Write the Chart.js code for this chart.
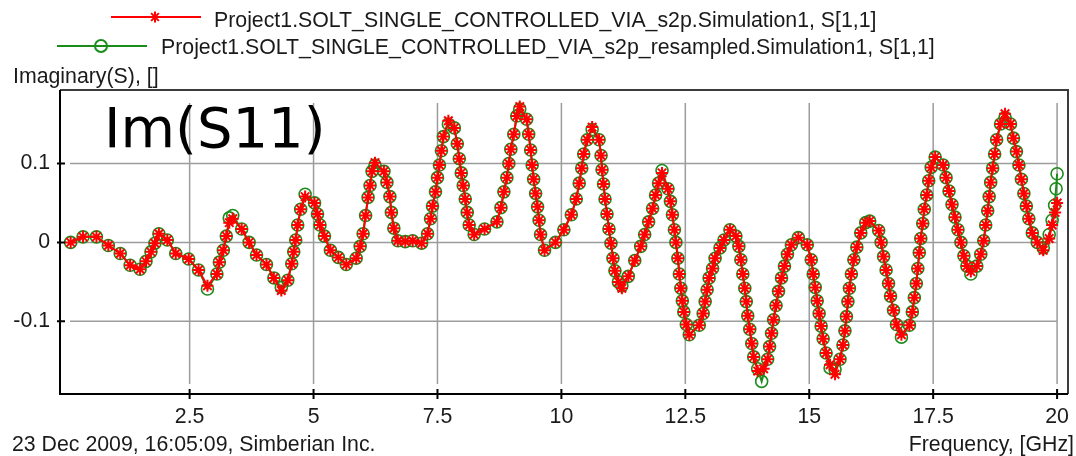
<!DOCTYPE html>
<html>
<head>
<meta charset="utf-8">
<title>Im(S11)</title>
<script src="https://cdn.jsdelivr.net/npm/chart.js@4.4.1/dist/chart.umd.min.js"></script>
<style>
  html, body { margin: 0; padding: 0; background: #fff; }
  #wrap { width: 1076px; height: 456px; }
</style>
</head>
<body>
<div id="wrap"><canvas id="chart" width="1076" height="456"></canvas></div>
<script>
// frequency points [GHz] and Im(S11)
const redFreq = [
  0.10, 0.35, 0.62, 0.86, 1.10, 1.30, 1.50, 1.62, 1.72, 1.80,
  1.88, 2.05, 2.22, 2.48, 2.68, 2.86, 3.05, 3.10, 3.18, 3.24,
  3.30, 3.37, 3.55, 3.70, 3.85, 4.05, 4.20, 4.35, 4.48, 4.56,
  4.60, 4.64, 4.68, 4.74, 4.83, 5.02, 5.08, 5.13, 5.22, 5.34,
  5.50, 5.66, 5.86, 5.94, 6.00, 6.05, 6.10, 6.14, 6.18, 6.24,
  6.42, 6.48, 6.54, 6.57, 6.62, 6.70, 6.85, 7.00, 7.18, 7.30,
  7.36, 7.40, 7.46, 7.50, 7.54, 7.58, 7.62, 7.72, 7.84, 7.90,
  7.94, 7.98, 8.02, 8.06, 8.10, 8.14, 8.24, 8.45, 8.70, 8.78,
  8.84, 8.90, 8.94, 8.98, 9.04, 9.10, 9.16, 9.30, 9.34, 9.38,
  9.41, 9.44, 9.48, 9.52, 9.55, 9.58, 9.66, 9.88, 10.05, 10.20,
  10.30, 10.36, 10.41, 10.45, 10.52, 10.62, 10.76, 10.80, 10.82, 10.85,
  10.88, 10.92, 10.96, 11.00, 11.04, 11.08, 11.15, 11.22, 11.35, 11.48,
  11.60, 11.68, 11.76, 11.84, 11.90, 11.96, 12.03, 12.15, 12.20, 12.24,
  12.28, 12.31, 12.35, 12.38, 12.41, 12.44, 12.47, 12.52, 12.58, 12.78,
  12.86, 12.90, 12.94, 12.98, 13.05, 13.10, 13.20, 13.28, 13.40, 13.52,
  13.58, 13.62, 13.66, 13.70, 13.73, 13.76, 13.80, 13.84, 13.88, 13.96,
  14.08, 14.16, 14.20, 14.24, 14.28, 14.33, 14.38, 14.44, 14.50, 14.56,
  14.64, 14.78, 14.96, 15.04, 15.08, 15.12, 15.16, 15.20, 15.24, 15.28,
  15.34, 15.42, 15.52, 15.62, 15.68, 15.72, 15.75, 15.78, 15.81, 15.85,
  15.90, 15.96, 16.04, 16.14, 16.22, 16.40, 16.45, 16.50, 16.55, 16.60,
  16.64, 16.70, 16.76, 16.86, 17.02, 17.08, 17.12, 17.16, 17.19, 17.22,
  17.25, 17.29, 17.32, 17.37, 17.41, 17.46, 17.54, 17.70, 17.76, 17.82,
  17.88, 17.94, 18.00, 18.06, 18.12, 18.18, 18.26, 18.38, 18.46, 18.52,
  18.56, 18.60, 18.63, 18.66, 18.70, 18.74, 18.78, 18.86, 18.95, 19.06,
  19.12, 19.18, 19.23, 19.28, 19.33, 19.38, 19.43, 19.50, 19.60, 19.72,
  19.84, 19.90, 19.96, 20.00
];
const redIm = [
  0.000, 0.007, 0.007, -0.004, -0.014, -0.029, -0.034, -0.024, -0.012, -0.001,
  0.011, 0.003, -0.014, -0.021, -0.035, -0.055, -0.040, -0.025, -0.010, 0.008,
  0.025, 0.030, 0.017, 0.000, -0.016, -0.028, -0.045, -0.061, -0.048, -0.027,
  -0.012, 0.003, 0.022, 0.042, 0.058, 0.050, 0.036, 0.022, 0.008, -0.010,
  -0.019, -0.028, -0.020, -0.005, 0.011, 0.034, 0.057, 0.072, 0.090, 0.101,
  0.090, 0.076, 0.058, 0.038, 0.018, 0.002, 0.001, 0.002, -0.001, 0.011,
  0.030, 0.046, 0.064, 0.082, 0.098, 0.116, 0.134, 0.154, 0.145, 0.125,
  0.106, 0.088, 0.072, 0.055, 0.038, 0.022, 0.010, 0.017, 0.026, 0.044,
  0.064, 0.082, 0.100, 0.118, 0.137, 0.160, 0.172, 0.156, 0.137, 0.117,
  0.098, 0.080, 0.062, 0.045, 0.028, 0.010, -0.010, 0.000, 0.016, 0.035,
  0.055, 0.075, 0.094, 0.112, 0.130, 0.146, 0.130, 0.110, 0.092, 0.074,
  0.055, 0.036, 0.017, -0.001, -0.020, -0.036, -0.050, -0.058, -0.043, -0.023,
  -0.005, 0.010, 0.026, 0.043, 0.060, 0.075, 0.088, 0.068, 0.052, 0.035,
  0.016, 0.000, -0.020, -0.040, -0.058, -0.074, -0.088, -0.104, -0.117, -0.105,
  -0.090, -0.075, -0.060, -0.045, -0.033, -0.020, -0.007, 0.003, 0.016, 0.008,
  -0.005, -0.022, -0.040, -0.058, -0.075, -0.093, -0.110, -0.128, -0.145, -0.163,
  -0.160, -0.148, -0.132, -0.115, -0.098, -0.080, -0.062, -0.045, -0.030, -0.015,
  -0.003, 0.006, -0.003, -0.022, -0.040, -0.057, -0.074, -0.090, -0.106, -0.122,
  -0.140, -0.155, -0.167, -0.148, -0.130, -0.112, -0.094, -0.075, -0.058, -0.040,
  -0.022, -0.006, 0.012, 0.025, 0.027, 0.015, 0.000, -0.018, -0.035, -0.052,
  -0.068, -0.086, -0.104, -0.117, -0.105, -0.088, -0.070, -0.052, -0.033, -0.013,
  0.005, 0.024, 0.042, 0.060, 0.078, 0.095, 0.108, 0.098, 0.082, 0.065,
  0.048, 0.032, 0.016, 0.000, -0.017, -0.030, -0.037, -0.030, -0.015, 0.002,
  0.022, 0.040, 0.058, 0.076, 0.094, 0.112, 0.130, 0.150, 0.163, 0.150,
  0.132, 0.115, 0.098, 0.080, 0.062, 0.046, 0.030, 0.012, 0.000, -0.010,
  0.005, 0.022, 0.038, 0.050
];

const greenFreq = [
  0.10, 0.35, 0.62, 0.86, 1.10, 1.30, 1.50, 1.62, 1.72, 1.80,
  1.88, 2.05, 2.22, 2.48, 2.68, 2.86, 3.05, 3.10, 3.18, 3.24,
  3.30, 3.37, 3.55, 3.70, 3.85, 4.05, 4.20, 4.35, 4.48, 4.56,
  4.60, 4.64, 4.68, 4.74, 4.83, 5.02, 5.08, 5.13, 5.22, 5.34,
  5.50, 5.66, 5.86, 5.94, 6.00, 6.05, 6.10, 6.14, 6.18, 6.24,
  6.42, 6.48, 6.54, 6.57, 6.62, 6.70, 6.85, 7.00, 7.18, 7.30,
  7.36, 7.40, 7.46, 7.50, 7.54, 7.58, 7.62, 7.72, 7.84, 7.90,
  7.94, 7.98, 8.02, 8.06, 8.10, 8.14, 8.24, 8.45, 8.70, 8.78,
  8.84, 8.90, 8.94, 8.98, 9.04, 9.10, 9.16, 9.30, 9.34, 9.38,
  9.41, 9.44, 9.48, 9.52, 9.55, 9.58, 9.66, 9.88, 10.05, 10.20,
  10.30, 10.36, 10.41, 10.45, 10.52, 10.62, 10.76, 10.80, 10.82, 10.85,
  10.88, 10.92, 10.96, 11.00, 11.04, 11.08, 11.15, 11.22, 11.35, 11.48,
  11.60, 11.68, 11.76, 11.84, 11.90, 11.96, 12.03, 12.15, 12.20, 12.24,
  12.28, 12.31, 12.35, 12.38, 12.41, 12.44, 12.47, 12.52, 12.58, 12.78,
  12.86, 12.90, 12.94, 12.98, 13.05, 13.10, 13.20, 13.28, 13.40, 13.52,
  13.58, 13.62, 13.66, 13.70, 13.73, 13.76, 13.80, 13.84, 13.88, 13.96,
  14.04, 14.16, 14.20, 14.24, 14.28, 14.33, 14.38, 14.44, 14.50, 14.56,
  14.64, 14.78, 14.96, 15.04, 15.08, 15.12, 15.16, 15.20, 15.24, 15.28,
  15.34, 15.42, 15.52, 15.62, 15.68, 15.72, 15.75, 15.78, 15.81, 15.85,
  15.90, 15.96, 16.04, 16.14, 16.22, 16.40, 16.45, 16.50, 16.55, 16.60,
  16.64, 16.70, 16.76, 16.86, 17.02, 17.08, 17.12, 17.16, 17.19, 17.22,
  17.25, 17.29, 17.32, 17.37, 17.41, 17.46, 17.54, 17.70, 17.76, 17.82,
  17.88, 17.94, 18.00, 18.06, 18.12, 18.18, 18.26, 18.38, 18.46, 18.52,
  18.56, 18.60, 18.63, 18.66, 18.70, 18.74, 18.78, 18.86, 18.95, 19.06,
  19.12, 19.18, 19.23, 19.28, 19.33, 19.38, 19.43, 19.50, 19.60, 19.72,
  19.84, 19.90, 19.95, 19.98, 20.00
];
const greenIm = [
  0.000, 0.007, 0.007, -0.004, -0.014, -0.029, -0.034, -0.024, -0.012, -0.001,
  0.011, 0.003, -0.014, -0.021, -0.035, -0.059, -0.040, -0.025, -0.010, 0.008,
  0.031, 0.034, 0.017, 0.000, -0.016, -0.028, -0.045, -0.057, -0.048, -0.027,
  -0.012, 0.003, 0.022, 0.042, 0.061, 0.050, 0.036, 0.022, 0.008, -0.010,
  -0.019, -0.028, -0.020, -0.005, 0.011, 0.034, 0.057, 0.072, 0.090, 0.098,
  0.090, 0.076, 0.058, 0.038, 0.018, 0.002, 0.001, 0.002, -0.001, 0.011,
  0.030, 0.046, 0.064, 0.082, 0.098, 0.116, 0.134, 0.150, 0.145, 0.125,
  0.106, 0.088, 0.072, 0.055, 0.038, 0.022, 0.010, 0.017, 0.026, 0.044,
  0.064, 0.082, 0.100, 0.118, 0.137, 0.160, 0.169, 0.156, 0.137, 0.117,
  0.098, 0.080, 0.062, 0.045, 0.028, 0.010, -0.010, 0.000, 0.016, 0.035,
  0.055, 0.075, 0.094, 0.112, 0.130, 0.143, 0.130, 0.110, 0.092, 0.074,
  0.055, 0.036, 0.017, -0.001, -0.020, -0.036, -0.050, -0.055, -0.043, -0.023,
  -0.005, 0.010, 0.026, 0.043, 0.060, 0.075, 0.091, 0.068, 0.052, 0.035,
  0.016, 0.000, -0.020, -0.040, -0.058, -0.074, -0.088, -0.104, -0.117, -0.105,
  -0.090, -0.075, -0.060, -0.045, -0.033, -0.020, -0.007, 0.003, 0.016, 0.008,
  -0.005, -0.022, -0.040, -0.058, -0.075, -0.093, -0.110, -0.128, -0.145, -0.160,
  -0.176, -0.148, -0.132, -0.115, -0.098, -0.080, -0.062, -0.045, -0.030, -0.015,
  -0.003, 0.006, -0.003, -0.022, -0.040, -0.057, -0.074, -0.090, -0.106, -0.122,
  -0.140, -0.159, -0.161, -0.148, -0.130, -0.112, -0.094, -0.075, -0.058, -0.040,
  -0.022, -0.006, 0.012, 0.025, 0.027, 0.015, 0.000, -0.018, -0.035, -0.052,
  -0.068, -0.086, -0.104, -0.120, -0.105, -0.088, -0.070, -0.052, -0.033, -0.013,
  0.005, 0.024, 0.042, 0.060, 0.078, 0.095, 0.108, 0.098, 0.082, 0.065,
  0.048, 0.032, 0.016, 0.000, -0.017, -0.030, -0.040, -0.030, -0.015, 0.002,
  0.022, 0.040, 0.058, 0.076, 0.094, 0.112, 0.130, 0.150, 0.158, 0.150,
  0.132, 0.115, 0.098, 0.080, 0.062, 0.046, 0.030, 0.012, 0.000, -0.007,
  0.010, 0.028, 0.047, 0.068, 0.087
];

const xTicks = [2.5, 5, 7.5, 10, 12.5, 15, 17.5, 20];
const yTicks = [-0.1, 0, 0.1];
const yTickLabels = ['-0.1', '0', '0.1'];
const seriesNames = [
  'Project1.SOLT_SINGLE_CONTROLLED_VIA_s2p.Simulation1, S[1,1]',
  'Project1.SOLT_SINGLE_CONTROLLED_VIA_s2p_resampled.Simulation1, S[1,1]'
];

const RED = '#ff0000';
const GREEN = '#1a8c1a';
const TEXT = '#1a1a1a';
const FONT_FAMILY = '"Liberation Sans", Arial, sans-serif';
const FONT_SIZE = 21.3;

function pairs(xs, ys) {
  return xs.map((x, i) => ({ x: x, y: ys[i] }));
}

function marker(ctx, style, color, x, y, r, w) {
  ctx.save();
  ctx.strokeStyle = color;
  ctx.fillStyle = 'rgba(0,0,0,0)';
  ctx.lineWidth = w;
  Chart.helpers.drawPoint(ctx, { pointStyle: style, radius: r, borderWidth: w, rotation: 0 }, x, y);
  ctx.restore();
}

// grid inset from the frame, frame, cross ticks and all the free text
const decorations = {
  id: 'decorations',
  beforeDatasetsDraw(chart) {
    const { ctx, chartArea: a, scales: { x, y } } = chart;
    ctx.save();
    ctx.strokeStyle = '#9c9c9c';
    ctx.lineWidth = 1.5;
    ctx.beginPath();
    xTicks.forEach(v => {
      const px = x.getPixelForValue(v);
      ctx.moveTo(px, a.top + 13);
      ctx.lineTo(px, a.bottom - 10);
    });
    const gridRight = x.getPixelForValue(xTicks[xTicks.length - 1]);
    yTicks.forEach(v => {
      const py = y.getPixelForValue(v);
      ctx.moveTo(a.left + 10, py);
      ctx.lineTo(gridRight, py);
    });
    ctx.stroke();
    ctx.restore();
  },
  afterDraw(chart) {
    const { ctx, chartArea: a, scales: { x, y } } = chart;
    ctx.save();

    // top / right frame
    ctx.strokeStyle = '#3c3c3c';
    ctx.lineWidth = 2;
    ctx.beginPath();
    ctx.moveTo(a.left, a.top);
    ctx.lineTo(a.right, a.top);
    ctx.lineTo(a.right, a.bottom);
    ctx.stroke();

    // left / bottom axes with ticks across them
    ctx.strokeStyle = '#000';
    ctx.beginPath();
    ctx.moveTo(a.left, a.top);
    ctx.lineTo(a.left, a.bottom);
    ctx.lineTo(a.right, a.bottom);
    xTicks.forEach(v => {
      const px = x.getPixelForValue(v);
      ctx.moveTo(px, a.bottom - 5);
      ctx.lineTo(px, a.bottom + 5);
    });
    yTicks.forEach(v => {
      const py = y.getPixelForValue(v);
      ctx.moveTo(a.left - 3, py);
      ctx.lineTo(a.left + 5, py);
    });
    ctx.stroke();

    // legend
    ctx.lineWidth = 2;
    ctx.strokeStyle = RED;
    ctx.beginPath();
    ctx.moveTo(111, 17);
    ctx.lineTo(201, 17);
    ctx.stroke();
    marker(ctx, 'star', RED, 155, 17, 5.5, 2);
    ctx.strokeStyle = GREEN;
    ctx.beginPath();
    ctx.moveTo(57, 46);
    ctx.lineTo(147, 46);
    ctx.stroke();
    marker(ctx, 'circle', GREEN, 101, 46, 6, 2);

    ctx.fillStyle = TEXT;
    ctx.font = FONT_SIZE + 'px ' + FONT_FAMILY;
    ctx.textBaseline = 'alphabetic';
    ctx.textAlign = 'left';
    ctx.fillText(seriesNames[0], 214, 27);
    ctx.fillText(seriesNames[1], 161, 54);

    // axis titles and footer
    ctx.fillText('Imaginary(S), []', 13, 83);
    ctx.fillText('23 Dec 2009, 16:05:09, Simberian Inc.', 12, 451);
    ctx.textAlign = 'right';
    ctx.fillText('Frequency, [GHz]', 1074, 451);

    // big annotation
    ctx.textAlign = 'left';
    ctx.fillStyle = '#000';
    ctx.font = '56px "DejaVu Sans", sans-serif';
    ctx.fillText('Im(S11)', 104, 147);

    ctx.restore();
  }
};

const tickFont = { family: FONT_FAMILY, size: FONT_SIZE };

new Chart(document.getElementById('chart'), {
  type: 'line',
  data: {
    datasets: [
      {
        label: seriesNames[0],
        data: pairs(redFreq, redIm),
        borderColor: RED,
        borderWidth: 2,
        pointStyle: 'star',
        pointRadius: 6,
        pointBorderWidth: 2,
        pointBorderColor: RED,
        pointBackgroundColor: RED,
        tension: 0
      },
      {
        label: seriesNames[1],
        data: pairs(greenFreq, greenIm),
        borderColor: GREEN,
        borderWidth: 2,
        pointStyle: 'circle',
        pointRadius: 6,
        pointBorderWidth: 1.6,
        pointBorderColor: GREEN,
        pointBackgroundColor: 'rgba(0,0,0,0)',
        tension: 0
      }
    ]
  },
  options: {
    responsive: false,
    animation: false,
    events: [],
    layout: { padding: { top: 90, right: 6, left: 0, bottom: 0 } },
    plugins: {
      legend: { display: false },
      tooltip: { enabled: false }
    },
    scales: {
      x: {
        type: 'linear',
        min: -0.115,
        max: 20.22,
        grid: { display: false },
        border: { display: false },
        afterFit: s => { s.height = 62; },
        afterBuildTicks: s => { s.ticks = xTicks.map(v => ({ value: v })); },
        ticks: {
          font: tickFont,
          color: TEXT,
          padding: 2,
          maxRotation: 0,
          autoSkip: false,
          callback: v => String(v)
        }
      },
      y: {
        type: 'linear',
        min: -0.192,
        max: 0.193,
        grid: { display: false },
        border: { display: false },
        afterFit: s => { s.width = 60; },
        afterBuildTicks: s => { s.ticks = yTicks.map(v => ({ value: v })); },
        ticks: {
          font: tickFont,
          color: TEXT,
          padding: 2,
          autoSkip: false,
          callback: (v, i) => yTickLabels[i]
        }
      }
    }
  },
  plugins: [decorations]
});
</script>
</body>
</html>
